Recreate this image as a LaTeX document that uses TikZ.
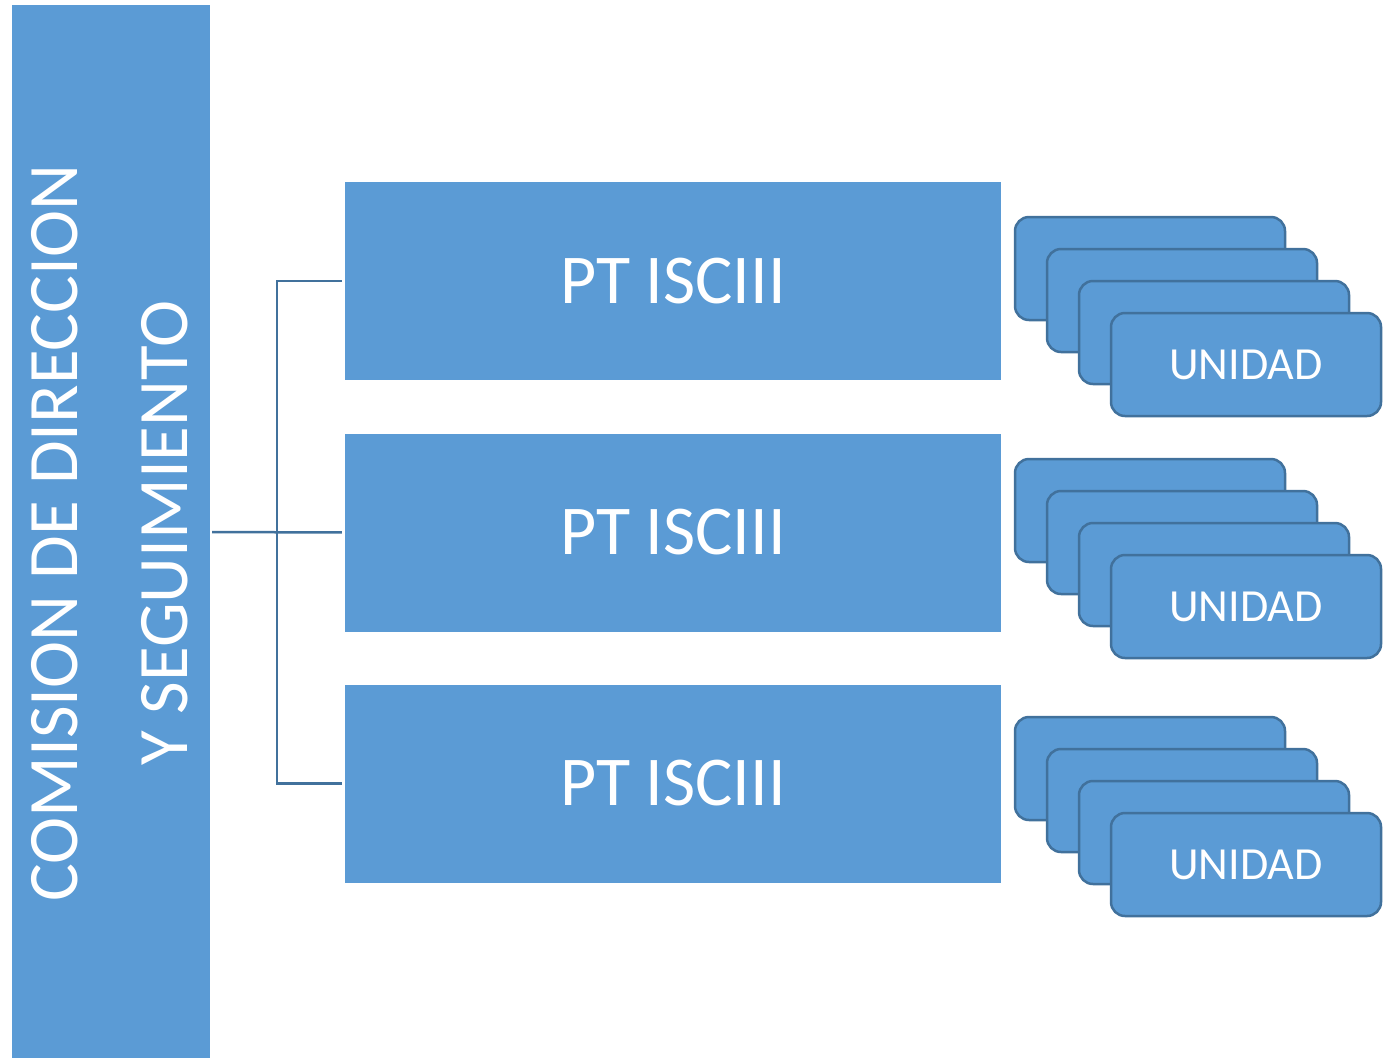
\documentclass[tikz,border=0pt]{standalone}
\usepackage{fontspec}
\setmainfont{Carlito}
\usepackage{tikz}
\definecolor{OrgFill}{HTML}{5B9BD5}
\definecolor{OrgLine}{HTML}{41719C}
\begin{document}
\begin{tikzpicture}[x=1pt,y=-1pt,
  bar/.style={fill=OrgFill,inner sep=0pt,minimum width=198pt,minimum height=1053pt},
  ptbox/.style={fill=OrgFill,inner sep=0pt,minimum width=656pt,minimum height=198pt,text=white,font=\fontsize{70}{84}\selectfont},
  unidad/.style={fill=OrgFill,draw=OrgLine,line width=2.5pt,rounded corners=14pt,inner sep=0pt,minimum width=270pt,minimum height=103pt,text=white,font=\fontsize{46}{55}\selectfont},
  link/.style={draw=OrgLine,line width=2.5pt}]
\useasboundingbox (0,0) rectangle (1383,1058);
\node[bar] (comision) at (111,531.5) {};
\node[rotate=90,align=center,text=white,font=\fontsize{71}{110}\selectfont] (comisiontxt) at (110,533)
   {COMISION DE DIRECCION\\Y SEGUIMIENTO};
\node[ptbox] (pt1) at (673,281) {PT ISCIII};
\node[ptbox] (pt2) at (673,532.5) {PT ISCIII};
\node[ptbox] (pt3) at (673,783.5) {PT ISCIII};
\coordinate (rama) at (277,532);
\draw[link,shorten <=3pt,shorten >=3pt] (pt1.west) -| (rama) |- (pt3.west);
\draw[link,shorten <=2pt,shorten >=3pt] (comision.east |- rama) -- (pt2.west);
\foreach \g/\y in {1/268.5,2/510.5,3/768.5} {
   \foreach \k in {1,2,3} {
      \node[unidad] (unidad-\g-\k) at (1150+32*\k-32,\y+32*\k-32) {};
   }
   \node[unidad] (unidad-\g-4) at (1246,\y+96) {UNIDAD};
}
\end{tikzpicture}
\end{document}
